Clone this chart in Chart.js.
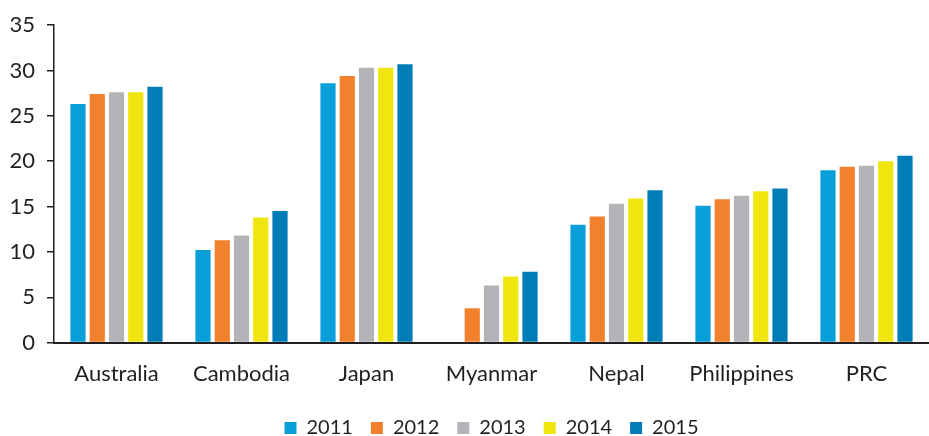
<!DOCTYPE html>
<html>
<head>
<meta charset="utf-8">
<script src="https://cdn.jsdelivr.net/npm/chart.js@4/dist/chart.umd.min.js"></script>
<style>
  html, body { margin: 0; padding: 0; background: #fff; }
  #wrap { width: 929px; height: 436px; }
</style>
</head>
<body>
<div id="wrap"><canvas id="chart" width="929" height="436"></canvas></div>
<script>
const countries = ['Australia', 'Cambodia', 'Japan', 'Myanmar', 'Nepal', 'Philippines', 'PRC'];
const years = ['2011', '2012', '2013', '2014', '2015'];

const values2011 = [26.3, 10.2, 28.6, null, 13.0, 15.1, 19.0];
const values2012 = [27.4, 11.3, 29.4, 3.8, 13.9, 15.8, 19.4];
const values2013 = [27.6, 11.8, 30.3, 6.3, 15.3, 16.2, 19.5];
const values2014 = [27.6, 13.8, 30.3, 7.3, 15.9, 16.7, 20.0];
const values2015 = [28.2, 14.5, 30.7, 7.8, 16.8, 17.0, 20.6];

const colors = ['#0a9fd8', '#f2812d', '#b3b4b8', '#f0e60d', '#007db6'];
const series = [values2011, values2012, values2013, values2014, values2015];

const textColor = '#231f20';
const fontFamily = 'Lato, "Open Sans", sans-serif';

const chart = new Chart(document.getElementById('chart'), {
    type: 'bar',
    data: {
        labels: countries,
        datasets: series.map((vals, i) => ({
            label: years[i],
            data: vals,
            backgroundColor: colors[i],
            borderWidth: 0,
            categoryPercentage: 0.77,
            barPercentage: 0.79
        }))
    },
    options: {
        responsive: false,
        animation: false,
        layout: { padding: { top: 12, right: 0, left: 0, bottom: -12 } },
        plugins: {
            tooltip: { enabled: false },
            legend: {
                position: 'bottom',
                fullSize: false,
                labels: {
                    color: textColor,
                    font: { family: fontFamily, size: 20 },
                    boxWidth: 12,
                    boxHeight: 12,
                    padding: 18
                }
            }
        },
        scales: {
            x: {
                grid: { display: false },
                border: { color: '#231f20', width: 2 },
                ticks: {
                    color: textColor,
                    font: { family: fontFamily, size: 22 },
                    padding: 10
                },
                afterFit: (scale) => { scale.height += 3; }
            },
            y: {
                min: 0,
                max: 35,
                ticks: {
                    stepSize: 5,
                    color: textColor,
                    font: { family: fontFamily, size: 22 },
                    padding: 12
                },
                grid: {
                    drawOnChartArea: false,
                    drawTicks: true,
                    tickLength: 7,
                    color: '#231f20',
                    lineWidth: 1.5
                },
                border: { color: '#231f20', width: 1.5 },
                afterFit: (scale) => { scale.width = 54; }
            }
        }
    }
});
</script>
</body>
</html>
